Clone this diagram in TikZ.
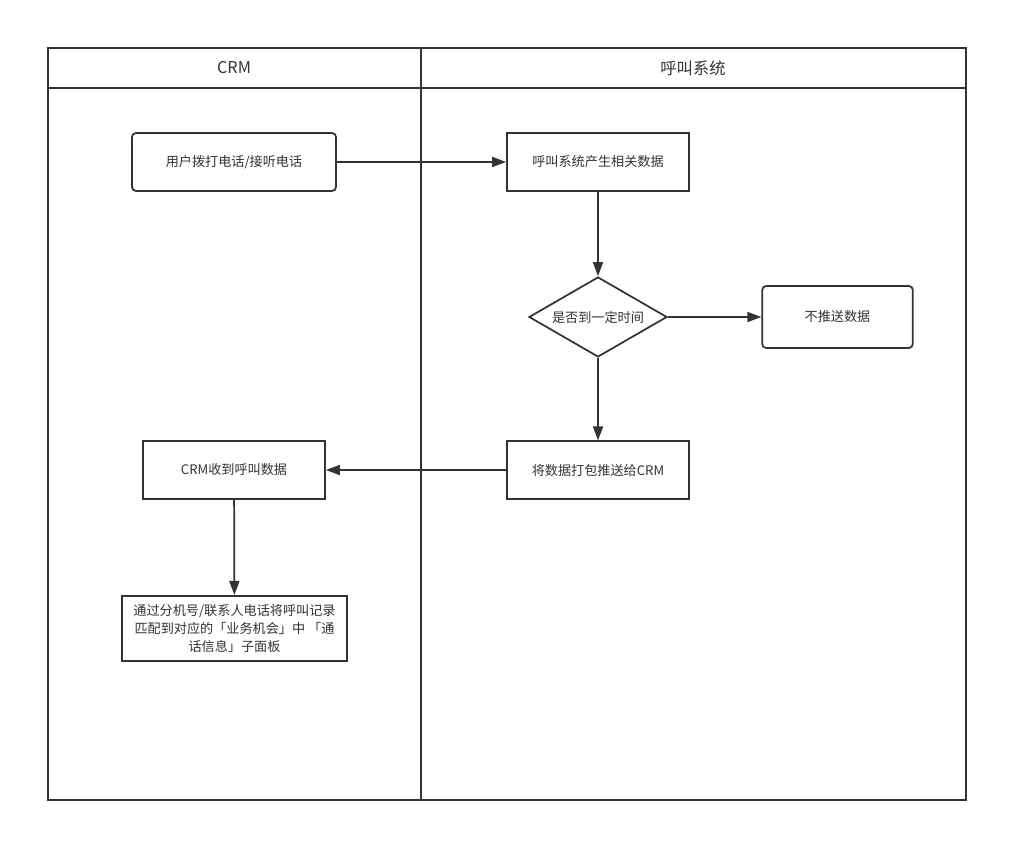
\documentclass[tikz,border=0pt]{standalone}
\usepackage{fontspec}
\setmainfont{Noto Sans CJK SC}
\usetikzlibrary{arrows.meta,shapes.geometric}
\definecolor{ln}{HTML}{333333}
\begin{document}
\begin{tikzpicture}[x=0.75pt,y=-0.75pt,
  every node/.style={font=\fontsize{9.85pt}{13.2pt}\selectfont, text=ln},
  lane/.style={draw=ln, line width=1.3pt},
  rbox/.style={draw=ln, line width=1.3pt, rounded corners=3pt, minimum width=153pt, minimum height=43.5pt, inner sep=0pt},
  pbox/.style={draw=ln, line width=1.3pt, minimum width=136.5pt, minimum height=43pt, inner sep=0pt},
  dec/.style={draw=ln, line width=1.3pt, diamond, minimum width=103.5pt, minimum height=60pt, inner sep=0pt, aspect=1.725},
  conn/.style={draw=ln, line width=1.3pt, -{Triangle[length=10.5pt,width=7.5pt]}},
  hdr/.style={font=\fontsize{12.2pt}{14pt}\selectfont}
]
\useasboundingbox (0,0) rectangle (1027,862);
\fill[white] (0,0) rectangle (1027,862);
% lanes
\draw[lane] (48,48) rectangle (966,800);
\draw[lane] (421,48) -- (421,800);
\draw[lane] (48,88) -- (966,88);
\node[hdr] (h1) at (234,68) {CRM};
\node[hdr] (h2) at (693,68) {呼叫系统};
% nodes
\node[rbox] (n1) at (234,162) {用户拨打电话/接听电话};
\node[pbox] (n2) at (598,162) {呼叫系统产生相关数据};
\node[dec] (d) at (598,317) {是否到一定时间};
\node[rbox, minimum width=113pt, minimum height=46.5pt] (n3) at (837.5,317) {不推送数据};
\node[pbox] (n4) at (598,470) {将数据打包推送给CRM};
\node[pbox] (n5) at (234,470) {CRM收到呼叫数据};
\node[pbox, minimum width=169pt, minimum height=49pt, align=center] (n6) at (234.5,628.5) {通过分机号/联系人电话将呼叫记录\\匹配到对应的「业务机会」中 「通\\话信息」子面板};
% connectors
\draw[conn] (n1) -- (n2);
\draw[conn] (n2) -- (d);
\draw[conn] (d) -- (n3);
\draw[conn] (d) -- (n4);
\draw[conn] (n4) -- (n5);
\draw[conn] (n5) -- (n6);
\end{tikzpicture}
\end{document}
